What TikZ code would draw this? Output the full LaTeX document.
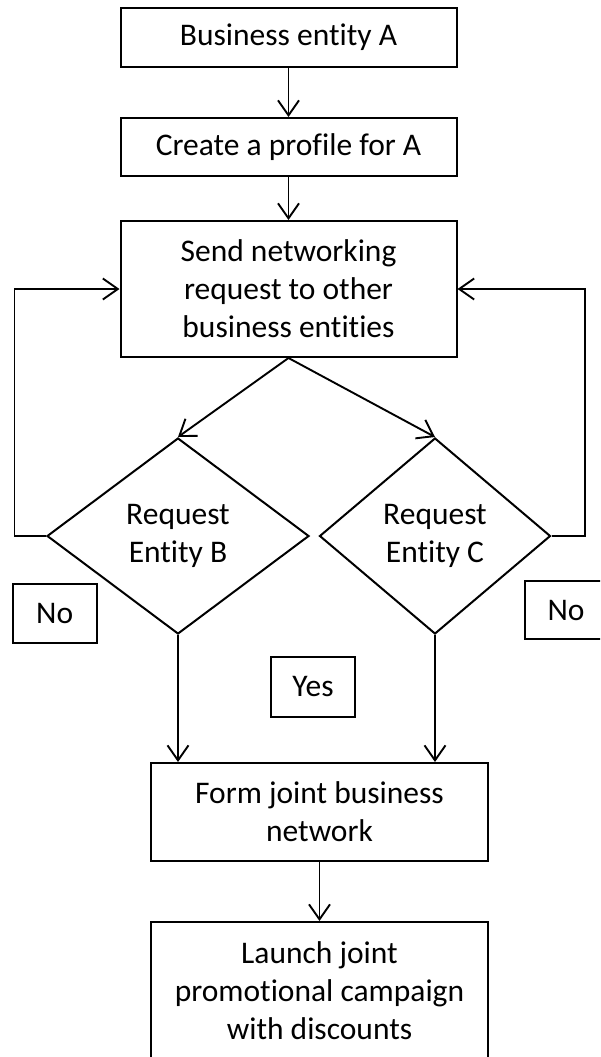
\documentclass[tikz,border=0pt]{standalone}
\usepackage{fontspec}
\setmainfont{Carlito}[Ligatures=NoCommon]
\usetikzlibrary{arrows.meta,shapes.geometric}
\begin{document}
\begin{tikzpicture}[x=1pt,y=-1pt,
  txt/.style={align=center, font=\fontsize{31.5}{38}\selectfont, text=black},
  box/.style={txt, draw=black, line width=2pt, inner sep=0pt, rectangle},
  dec/.style={txt, draw=black, line width=2pt, inner sep=0pt, diamond},
  arr/.style={draw=black, line width=1.9pt, -{Straight Barb[length=15pt,width=21pt]}}]
\useasboundingbox (0,0) rectangle (600,1057);
\clip (0,0) rectangle (600,1057);
\node[box, minimum width=336pt, minimum height=59pt] (a) at (288.5,37.5) {Business entity A};
\node[box, minimum width=336pt, minimum height=58pt] (p) at (288.5,147) {Create a profile for A};
\node[box, minimum width=336pt, minimum height=136pt] (s) at (288.5,289) {Send networking\\request to other\\business entities};
\node[dec, minimum width=262pt, minimum height=196pt] (b) at (178,536) {Request\\Entity B};
\node[dec, minimum width=231pt, minimum height=196pt] (c) at (435,536) {Request\\Entity C};
\node[box, minimum width=84pt, minimum height=59pt] (n1) at (54.7,613.5) {No};
\node[box, minimum width=82pt, minimum height=58pt] (n2) at (566,610) {No};
\node[box, minimum width=84.5pt, minimum height=60pt] (y) at (313,687) {Yes};
\node[box, minimum width=337pt, minimum height=98pt] (f) at (319.5,812) {Form joint business\\network};
\node[box, minimum width=337pt, minimum height=138pt] (l) at (319.5,991) {Launch joint\\promotional campaign\\with discounts};
\coordinate (lt) at (14.5,289);
\coordinate (lb) at (14.5,536);
\coordinate (rt) at (585,289);
\coordinate (rb) at (585,536);
\draw[arr] (a) -- (p);
\draw[arr] (p) -- (s);
\draw[arr] (s.south) -- (b.north);
\draw[arr] (s.south) -- (c.north);
\draw[arr] (b.west) -- (lb) -- (lt) -- (s.west);
\draw[arr] (c.east) -- (rb) -- (rt) -- (s.east);
\draw[arr] (b.south) -- (b.south |- f.north);
\draw[arr] (c.south) -- (c.south |- f.north);
\draw[arr] (f) -- (l);
\end{tikzpicture}
\end{document}
